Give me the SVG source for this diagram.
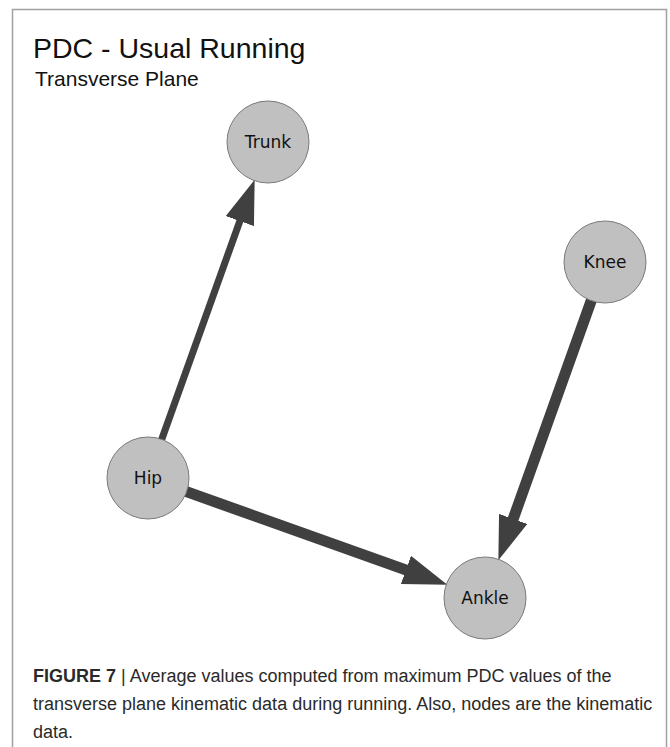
<svg xmlns="http://www.w3.org/2000/svg" width="670" height="747" viewBox="0 0 670 747">
  <style>
    .frame { fill: #ffffff; stroke: #a0a0a0; stroke-width: 1.5; }
    .title { font-family: "Liberation Sans", Arial, sans-serif; fill: #111111; }
    .node circle { fill: #c0c0c0; stroke: #7a7a7a; stroke-width: 1; }
    .node text { font-family: "DejaVu Sans", Verdana, sans-serif; font-size: 17px; fill: #111111; text-anchor: middle; }
    .edge { stroke: #404040; fill: none; stroke-linecap: butt; marker-end: url(#arrow); }
    .caption { font-family: "Liberation Sans", Arial, sans-serif; font-size: 18px; fill: #2a2a2a; }
  </style>
  <defs>
    <marker id="arrow" viewBox="0 0 44 30" refX="2" refY="15" markerWidth="44" markerHeight="30" markerUnits="userSpaceOnUse" orient="auto">
      <path d="M0,0 L44,15 L0,30 z" fill="#404040"/>
    </marker>
  </defs>
  <rect class="frame" x="12.5" y="9.5" width="654" height="760"/>
  <text class="title" x="33" y="58" font-size="28.5">PDC - Usual Running</text>
  <text class="title" x="35" y="86" font-size="21">Transverse Plane</text>
  <g id="connectors">
    <line class="edge" x1="161.4" y1="440.3" x2="240.5" y2="219.2" stroke-width="7"/>
    <line class="edge" x1="185.7" y1="491.4" x2="407.8" y2="570.6" stroke-width="11"/>
    <line class="edge" x1="591.6" y1="299.7" x2="512.5" y2="520.8" stroke-width="11"/>
  </g>
  <g id="node-trunk" class="node">
    <circle cx="268" cy="142" r="41"/>
    <text x="268" y="148">Trunk</text>
  </g>
  <g id="node-knee" class="node">
    <circle cx="605" cy="262" r="41"/>
    <text x="605" y="268">Knee</text>
  </g>
  <g id="node-hip" class="node">
    <circle cx="148" cy="478" r="41"/>
    <text x="148" y="484">Hip</text>
  </g>
  <g id="node-ankle" class="node">
    <circle cx="485" cy="598" r="41"/>
    <text x="485" y="604">Ankle</text>
  </g>
  <text class="caption" x="33" y="682"><tspan font-weight="bold">FIGURE 7</tspan> | Average values computed from maximum PDC values of the</text>
  <text class="caption" x="33" y="710">transverse plane kinematic data during running. Also, nodes are the kinematic</text>
  <text class="caption" x="33" y="738">data.</text>
</svg>
